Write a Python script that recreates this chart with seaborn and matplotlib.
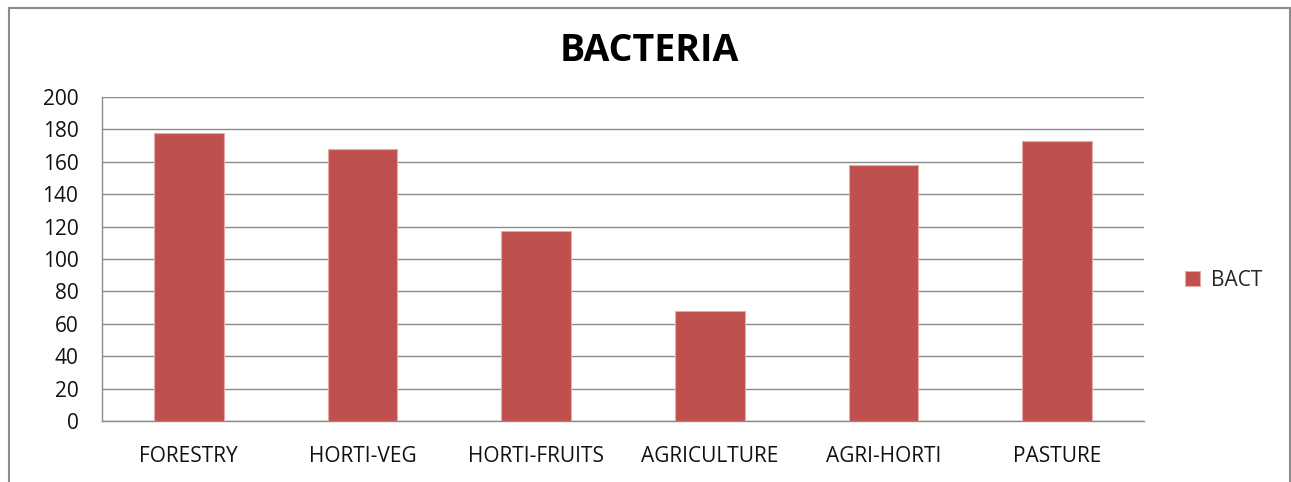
import matplotlib
matplotlib.use("Agg")
import matplotlib.pyplot as plt
import seaborn as sns
import pandas as pd
from matplotlib.patches import Rectangle

categories = ["FORESTRY", "HORTI-VEG", "HORTI-FRUITS", "AGRICULTURE", "AGRI-HORTI", "PASTURE"]
bact = [178, 168, 117, 68, 158, 173]
series_name = "BACT"
y_ticks = [0, 20, 40, 60, 80, 100, 120, 140, 160, 180, 200]

sns.set_theme(style="white")
plt.rcParams['font.family'] = ['Open Sans', 'DejaVu Sans']

df = pd.DataFrame({"category": categories, "value": bact, "series": series_name})

fig = plt.figure(figsize=(12.91, 4.82), dpi=100)
ax = fig.add_axes([102/1291, (482-421)/482, (1144-102)/1291, (421-97)/482])

sns.barplot(data=df, x="category", y="value", hue="series", palette=["#C0504D"],
            width=0.4, ax=ax, edgecolor="#E8A9A7", linewidth=0.8, saturation=1, zorder=3)

ax.set_ylim(0, 200)
ax.set_xlim(-0.5, 5.5)
ax.set_yticks(y_ticks)
ax.set_yticklabels([str(t) for t in y_ticks])
ax.yaxis.grid(True, color="#8C8C8C", linewidth=1.0, zorder=0)
ax.set_axisbelow(True)
ax.set_xlabel("")
ax.set_ylabel("")
for s in ["top", "right"]:
    ax.spines[s].set_visible(False)
for s in ["left", "bottom"]:
    ax.spines[s].set_color("#8C8C8C")
    ax.spines[s].set_linewidth(1.0)
ax.tick_params(axis="y", length=0, pad=17, labelsize=15, labelcolor="#111111")
ax.tick_params(axis="x", length=0, pad=18, labelsize=15, labelcolor="#111111")

ax.legend(loc="center left", bbox_to_anchor=(1.021, 0.435), frameon=False,
          fontsize=15, handlelength=0.75, handleheight=0.75, handletextpad=0.5)

fig.text(0.503, 0.895, "BACTERIA", ha="center", va="center", fontsize=27, fontweight="bold",
         color="#000000")

border = Rectangle((9/1291, -0.05), (1290-9)/1291, 1.05 - 8/482, transform=fig.transFigure,
                   fill=False, edgecolor="#8C8C8C", linewidth=1.5, clip_on=False)
fig.add_artist(border)

fig.savefig("out.png", dpi=100)
